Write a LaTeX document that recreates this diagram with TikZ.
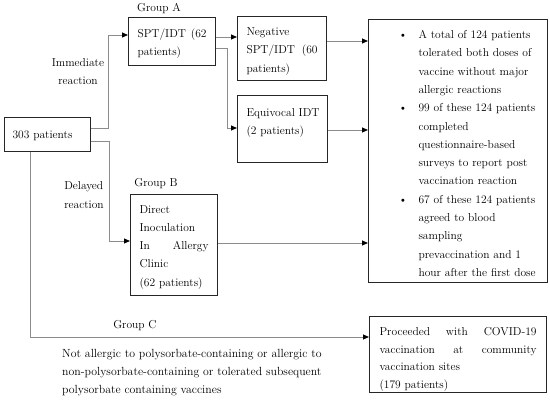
\documentclass[tikz,border=0pt]{standalone}
\usetikzlibrary{arrows.meta}
\newcommand\bitemX{\hspace*{30pt}\makebox[20pt][l]{\textbullet}}
\newcommand\bcontX{\hspace*{50pt}}
\newcommand\jlineX[2]{\leavevmode\hbox to #1{#2}}
\begin{document}
\begin{tikzpicture}[x=1pt,y=-1pt,
  every node/.style={font=\fontsize{11.5}{18.3}\selectfont, text=black},
  box/.style={draw=black!85, line width=1.1pt, inner ysep=0pt, align=left, anchor=north west},
  conn/.style={draw=black!45, line width=0.8pt, -{Triangle[length=6pt,width=5pt,color=black]}},
  lbl/.style={inner sep=0pt}]
\useasboundingbox (0,0) rectangle (550,404);
% boxes
\node[box, inner xsep=8pt, text width=70pt, text height=21pt, text depth=13pt] (p303) at (4,117) {303 patients};
\node[box, inner xsep=9pt, text width=69pt, text height=19.5pt, text depth=28.5pt] (spt) at (128,17)
  {\jlineX{69pt}{SPT/IDT\hfill(62}\\patients)};
\node[box, inner xsep=9pt, text width=71pt, text height=19pt, text depth=45pt] (neg) at (237,16)
  {Negative\\\jlineX{71pt}{SPT/IDT\hfill(60}\\patients)};
\node[box, inner xsep=9pt, text width=72pt, text height=21pt, text depth=46pt] (equ) at (237,95)
  {\makebox[72pt][l]{Equivocal IDT}\\(2 patients)};
\node[box, inner xsep=9pt, text width=69pt, text height=18.5pt, text depth=82.5pt] (grpb) at (130,194)
  {Direct\\Inoculation\\\jlineX{69pt}{In\hfill Allergy}\\Clinic\\(62 patients)};
\node[box, inner xsep=0pt, text width=179pt, text height=19pt, text depth=244pt] (big) at (368,19)
  {\bitemX A total of 124 patients\\
   \bcontX tolerated both doses of\\
   \bcontX vaccine without major\\
   \bcontX allergic reactions\\
   \bitemX 99 of these 124 patients\\
   \bcontX completed\\
   \bcontX questionnaire-based\\
   \bcontX surveys to report post\\
   \bcontX vaccination reaction\\
   \bitemX 67 of these 124 patients\\
   \bcontX agreed to blood\\
   \bcontX sampling\\
   \bcontX prevaccination and 1\\
   \bcontX hour after the first dose};
\node[box, inner xsep=10pt, text width=157pt, text height=19pt, text depth=57pt,
      font=\fontsize{11.5}{17.7}\selectfont] (proc) at (369,316)
  {\jlineX{157pt}{Proceeded\hfill with\hfill COVID-19}\\
   \jlineX{157pt}{vaccination\hfill at\hfill community}\\
   vaccination sites\\
   (179 patients)};
% labels
\node[lbl] (ga) at (159,9) {Group A};
\node[lbl, align=center] (imm) at (78,71.5) {Immediate\\reaction};
\node[lbl, align=left] (del) at (84,195) {Delayed\\reaction};
\node[lbl] (gb) at (156,184) {Group B};
\node[lbl] (gc) at (135,326) {Group C};
\node[lbl, align=left, anchor=west, font=\fontsize{11.8}{18.2}\selectfont] (nota) at (62,372.5)
  {Not allergic to polysorbate-containing or allergic to\\
   non-polysorbate-containing or tolerated subsequent\\
   polysorbate containing vaccines};
% connectors
\coordinate (c1) at (108,35);
\coordinate (c2) at (109,241);
\coordinate (c3) at (227,128);
\draw[conn] (p303.east |- 0,128) -| (c1) -- (spt.west |- c1);
\draw[conn] (p303.east |- 0,141) -| (c2) -- (grpb.west |- c2);
\draw[conn] (p303.south -| 30,0) |- (proc.west |- 0,337);
\draw[conn] (spt.east |- 0,37) -- (neg.west |- 0,37);
\draw[conn] (spt.east |- 0,48) -| (c3) -- (equ.west |- c3);
\draw[conn] (neg.east |- 0,41) -- (big.west |- 0,41);
\draw[conn] (equ.east |- 0,130) -- (big.west |- 0,130);
\draw[conn] (grpb.east |- 0,243) -- (big.west |- 0,243);
\end{tikzpicture}
\end{document}
